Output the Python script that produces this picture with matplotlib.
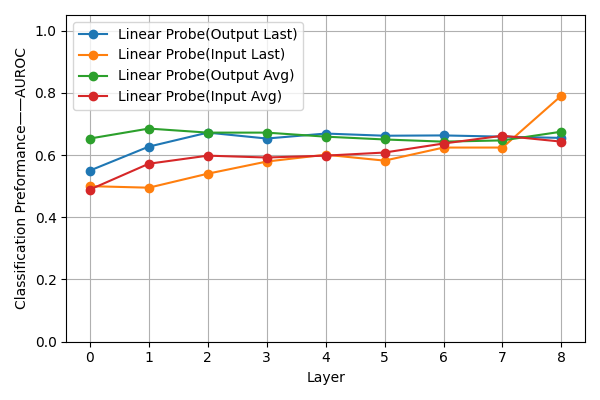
import matplotlib
matplotlib.use('Agg')
import matplotlib.pyplot as plt

layers = [0, 1, 2, 3, 4, 5, 6, 7, 8]
output_last = [0.550, 0.627, 0.672, 0.653, 0.669, 0.662, 0.663, 0.659, 0.655]
input_last = [0.500, 0.495, 0.540, 0.579, 0.601, 0.582, 0.624, 0.624, 0.791]
output_avg = [0.653, 0.685, 0.672, 0.672, 0.659, 0.650, 0.643, 0.647, 0.675]
input_avg = [0.489, 0.572, 0.598, 0.592, 0.598, 0.608, 0.637, 0.662, 0.643]

fig, ax = plt.subplots(figsize=(6, 4), dpi=100)
ax.plot(layers, output_last, marker='o', label='Linear Probe(Output Last)')
ax.plot(layers, input_last, marker='o', label='Linear Probe(Input Last)')
ax.plot(layers, output_avg, marker='o', label='Linear Probe(Output Avg)')
ax.plot(layers, input_avg, marker='o', label='Linear Probe(Input Avg)')

ax.set_xlabel('Layer')
ax.set_ylabel('Classification Preformance——AUROC')
ax.set_ylim(0, 1.05)
ax.set_xticks(layers)
ax.grid(True)
ax.legend(loc='upper left')

fig.tight_layout()
fig.savefig('out.png')
